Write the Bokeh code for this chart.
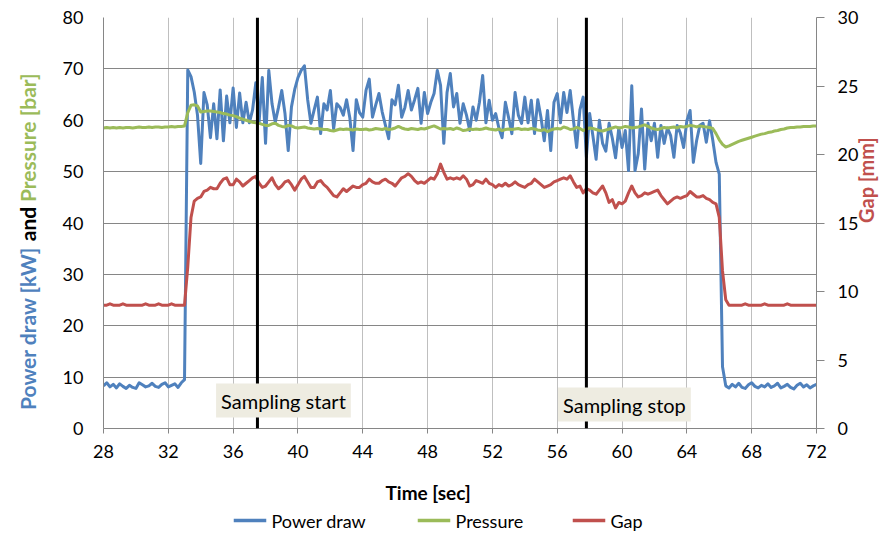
import math
from bokeh.plotting import figure
from bokeh.models import Range1d, LinearAxis, Label, FixedTicker, Span
from bokeh.embed import file_html
from bokeh.resources import INLINE

FONT = "Lato"

# ---------------- data (sampled every 0.2 s) ----------------
time_s = [round(28 + 0.2 * i, 1) for i in range(221)]

power_kw = [
    8.3, 8.9, 8.1, 8.6, 7.9,      # 28
    8.7, 8.2, 7.8, 8.4, 8.0,      # 29
    7.8, 8.9, 8.5, 8.1, 8.3,      # 30
    8.8, 8.2, 8.0, 8.6, 8.9,      # 31
    8.1, 8.4, 8.7, 8.0, 8.9,      # 32
    9.5, 69.8, 68.5, 65.5, 61.0,  # 33
    51.6, 65.4, 63.0, 56.6, 63.2,  # 34
    56.4, 65.9, 56.0, 64.7, 59.5,  # 35
    66.3, 58.6, 65.3, 59.5, 63.5,  # 36
    59.5, 62.0, 67.3, 59.6, 68.3,  # 37
    55.5, 69.7, 63.2, 59.6, 62.5,  # 38
    65.8, 61.3, 54.1, 62.6, 66.0,  # 39
    68.3, 69.7, 70.6, 64.0, 59.4,  # 40
    62.0, 64.5, 57.4, 63.2, 62.0,  # 41
    65.8, 58.3, 63.2, 62.5, 61.0,  # 42
    64.0, 60.5, 54.1, 64.0, 61.5,  # 43
    60.6, 65.8, 68.0, 60.6, 63.0,  # 44
    65.2, 61.6, 59.0, 56.4, 64.0,  # 45
    63.0, 66.8, 60.6, 62.5, 65.8,  # 46
    62.0, 64.0, 66.2, 59.4, 65.4,  # 47
    61.3, 63.5, 65.2, 69.7, 66.8,  # 48
    55.5, 65.4, 69.1, 62.6, 65.2,  # 49
    59.4, 63.2, 61.0, 58.0, 62.6,  # 50
    60.0, 63.5, 68.7, 59.5, 63.9,  # 51
    60.0, 61.3, 58.5, 56.6, 63.5,  # 52
    60.5, 57.4, 65.4, 61.0, 59.4,  # 53
    64.5, 59.5, 63.9, 57.4, 64.0,  # 54
    60.5, 56.0, 61.9, 54.1, 63.5,  # 55
    65.2, 59.5, 65.4, 61.5, 65.8,  # 56
    60.0, 54.7, 62.0, 64.5, 52.8,  # 57
    61.3, 57.0, 52.4, 60.0, 55.5,  # 58
    54.0, 59.4, 56.5, 52.7, 58.5,  # 59
    54.7, 58.0, 50.2, 66.7, 50.2,  # 60
    53.5, 62.2, 50.5, 59.4, 56.0,  # 61
    59.4, 52.8, 59.0, 55.5, 58.5,  # 62
    57.0, 52.8, 59.0, 57.5, 54.7,  # 63
    59.9, 61.9, 51.8, 56.0, 59.0,  # 64
    59.4, 55.7, 59.9, 56.1, 51.8,  # 65
    49.5, 12.0, 8.3, 7.9, 8.6,     # 66
    8.1, 8.8, 8.0, 7.8, 8.5,       # 67
    8.9, 8.2, 7.9, 8.4, 8.1,       # 68
    8.7, 8.0, 8.3, 8.8, 7.9,       # 69
    8.2, 8.6, 8.0, 7.7, 8.4,       # 70
    8.8, 8.1, 8.5, 7.9, 8.3,       # 71
    8.6,                           # 72
]

pressure_bar = [
    58.5, 58.6, 58.5, 58.6, 58.5,  # 28
    58.6, 58.5, 58.6, 58.6, 58.5,  # 29
    58.6, 58.7, 58.6, 58.6, 58.7,  # 30
    58.6, 58.7, 58.7, 58.6, 58.7,  # 31
    58.7, 58.8, 58.7, 58.8, 58.8,  # 32
    58.9, 61.5, 62.9, 63.0, 62.8,  # 33
    61.6, 61.7, 61.8, 61.8, 61.7,  # 34
    61.6, 61.5, 61.3, 61.2, 61.0,  # 35
    60.9, 60.7, 60.4, 60.2, 60.0,  # 36
    59.8, 59.6, 59.5, 59.4, 59.2,  # 37
    59.0, 59.0, 59.3, 59.4, 59.0,  # 38
    58.8, 58.7, 59.0, 58.9, 58.6,  # 39
    58.5, 58.6, 58.7, 58.5, 58.4,  # 40
    58.3, 58.4, 58.3, 58.2, 58.2,  # 41
    58.0, 57.9, 58.1, 58.3, 58.2,  # 42
    58.3, 58.2, 58.1, 58.3, 58.2,  # 43
    58.2, 58.3, 58.1, 58.2, 58.4,  # 44
    58.3, 58.2, 58.4, 58.2, 58.3,  # 45
    58.5, 58.8, 58.5, 58.3, 58.2,  # 46
    58.4, 58.3, 58.2, 58.4, 58.3,  # 47
    58.5, 58.7, 58.9, 58.6, 58.3,  # 48
    58.4, 58.3, 58.4, 58.2, 58.5,  # 49
    58.3, 58.0, 58.1, 58.3, 58.2,  # 50
    58.3, 58.2, 58.3, 58.5, 58.3,  # 51
    58.2, 58.1, 58.3, 58.0, 58.2,  # 52
    58.3, 58.2, 58.3, 58.4, 58.2,  # 53
    58.3, 58.2, 58.4, 58.3, 58.1,  # 54
    58.0, 58.2, 57.8, 58.1, 58.3,  # 55
    58.4, 58.3, 58.7, 58.5, 58.2,  # 56
    58.3, 58.6, 58.4, 58.0, 58.3,  # 57
    58.5, 58.4, 58.2, 58.0, 57.9,  # 58
    58.1, 58.3, 58.5, 58.7, 58.5,  # 59
    58.6, 58.8, 58.7, 58.5, 58.6,  # 60
    58.7, 58.9, 59.1, 58.8, 58.5,  # 61
    58.3, 58.2, 58.4, 58.6, 58.5,  # 62
    58.6, 58.7, 58.5, 58.8, 58.7,  # 63
    58.8, 59.0, 58.9, 58.7, 58.9,  # 64
    58.8, 58.7, 58.6, 58.4, 57.4,  # 65
    56.2, 55.3, 54.8, 55.0, 55.3,  # 66
    55.6, 55.9, 56.1, 56.3, 56.5,  # 67
    56.7, 56.9, 57.1, 57.3, 57.4,  # 68
    57.6, 57.7, 57.9, 58.0, 58.2,  # 69
    58.3, 58.5, 58.6, 58.6, 58.7,  # 70
    58.7, 58.8, 58.8, 58.8, 58.9,  # 71
    58.9,                          # 72
]

gap_mm = [
    9.0, 9.0, 9.1, 9.0, 9.0,       # 28
    9.0, 9.1, 9.0, 9.0, 9.0,       # 29
    9.0, 9.0, 9.0, 9.1, 9.0,       # 30
    9.0, 9.0, 9.1, 9.0, 9.0,       # 31
    9.0, 9.1, 9.0, 9.0, 9.0,       # 32
    9.0, 11.8, 15.4, 16.6, 16.8,   # 33
    16.9, 17.3, 17.4, 17.6, 17.5,  # 34
    17.5, 17.9, 18.2, 18.3, 17.8,  # 35
    17.8, 18.2, 18.0, 17.7, 17.9,  # 36
    18.1, 18.3, 18.4, 17.9, 17.6,  # 37
    17.7, 18.0, 18.3, 17.8, 17.5,  # 38
    17.7, 18.0, 18.1, 17.8, 17.4,  # 39
    17.8, 18.2, 18.4, 18.0, 17.6,  # 40
    17.6, 18.0, 18.1, 17.8, 17.6,  # 41
    17.3, 17.0, 16.9, 17.2, 17.5,  # 42
    17.3, 17.5, 17.7, 17.6, 17.6,  # 43
    17.8, 17.9, 18.2, 18.0, 17.9,  # 44
    17.9, 18.1, 18.2, 18.0, 17.9,  # 45
    17.7, 18.0, 18.3, 18.4, 18.6,  # 46
    18.4, 18.1, 17.9, 18.0, 17.9,  # 47
    18.1, 18.3, 18.2, 18.6, 19.3,  # 48
    18.7, 18.2, 18.3, 18.2, 18.3,  # 49
    18.2, 18.45, 18.2, 17.7, 17.8,  # 50
    18.1, 18.0, 17.9, 18.2, 17.9,  # 51
    17.8, 17.6, 17.8, 17.7, 17.9,  # 52
    17.7, 17.8, 18.0, 17.8, 17.7,  # 53
    17.6, 17.8, 17.9, 18.2, 18.0,  # 54
    17.8, 17.6, 17.7, 17.8, 18.0,  # 55
    18.1, 18.2, 18.3, 18.2, 18.45,  # 56
    18.0, 17.6, 17.7, 17.2, 17.5,  # 57
    17.4, 17.2, 17.1, 17.4, 17.7,  # 58
    17.2, 16.5, 16.7, 16.1, 16.5,  # 59
    16.4, 16.6, 17.2, 17.7, 17.2,  # 60
    16.9, 17.0, 17.2, 17.1, 17.2,  # 61
    17.3, 17.4, 17.0, 16.7, 16.4,  # 62
    16.6, 16.8, 16.9, 16.8, 16.9,  # 63
    17.0, 17.3, 17.1, 16.9, 16.9,  # 64
    17.0, 16.8, 16.7, 16.5, 16.4,  # 65
    15.4, 11.5, 9.4, 9.0, 9.0,     # 66
    9.0, 9.0, 9.0, 9.1, 9.0,       # 67
    9.0, 9.0, 9.0, 9.0, 9.1,       # 68
    9.0, 9.0, 9.0, 9.0, 9.0,       # 69
    9.0, 9.1, 9.0, 9.0, 9.0,       # 70
    9.0, 9.0, 9.0, 9.0, 9.0,       # 71
    9.0,                           # 72
]

x_ticks = [28, 32, 36, 40, 44, 48, 52, 56, 60, 64, 68, 72]
left_ticks = [0, 10, 20, 30, 40, 50, 60, 70, 80]
right_ticks = [0, 5, 10, 15, 20, 25, 30]
sampling_start = 37.5
sampling_stop = 57.8
series_names = ["Power draw", "Pressure", "Gap"]

C_POWER = "#4F81BD"
C_PRESS = "#9BBB59"
C_GAP = "#C0504D"
AXIS_GRAY = "#868686"

LEFT_BORDER = 130      # room for axis + three stacked title labels
SHIFT = 27             # canvas pulled left so that the frame starts at x=103

p = figure(frame_width=713, frame_height=411,
           x_range=Range1d(28, 72), y_range=Range1d(0, 80),
           output_backend="svg", toolbar_location=None,
           min_border_left=LEFT_BORDER, min_border_right=76,
           min_border_top=17, min_border_bottom=107,
           margin=(0, 0, 0, -SHIFT))
p.extra_y_ranges = {"gap": Range1d(0, 30)}
p.outline_line_color = None

p.xaxis.ticker = FixedTicker(ticks=x_ticks)
p.yaxis.ticker = FixedTicker(ticks=left_ticks)
for ax in (p.xaxis[0], p.yaxis[0]):
    ax.axis_line_color = AXIS_GRAY
    ax.major_tick_line_color = AXIS_GRAY
    ax.minor_tick_line_color = None
    ax.major_tick_in = 0
    ax.major_label_text_font = FONT
    ax.major_label_text_font_size = "18px"
    ax.major_label_text_color = "#000000"
p.yaxis.major_tick_out = 0
p.yaxis.major_label_standoff = 20
p.xaxis.major_tick_out = 5
p.xaxis.major_label_standoff = 11

rax = LinearAxis(y_range_name="gap", ticker=FixedTicker(ticks=right_ticks))
rax.axis_line_color = AXIS_GRAY
rax.major_tick_line_color = AXIS_GRAY
rax.minor_tick_line_color = None
rax.major_tick_in = 0
rax.major_tick_out = 8
rax.major_label_standoff = 13
rax.major_label_text_font = FONT
rax.major_label_text_font_size = "18px"
rax.major_label_text_color = "#000000"
rax.axis_label = "Gap [mm]"
rax.axis_label_text_font = FONT
rax.axis_label_text_font_size = "20px"
rax.axis_label_text_font_style = "bold"
rax.axis_label_text_color = C_GAP
rax.axis_label_standoff = 5
rax.axis_label_orientation = math.pi / 2
p.add_layout(rax, "right")

p.xgrid.ticker = FixedTicker(ticks=x_ticks)
p.xgrid.grid_line_color = "#BFBFBF"
p.ygrid.ticker = FixedTicker(ticks=left_ticks)
p.ygrid.grid_line_color = AXIS_GRAY

p.line(time_s, power_kw, line_color=C_POWER, line_width=3, line_join="round")
p.line(time_s, pressure_bar, line_color=C_PRESS, line_width=3, line_join="round")
p.line(time_s, gap_mm, line_color=C_GAP, line_width=3, line_join="round",
       y_range_name="gap")

for loc in (sampling_start, sampling_stop):
    p.add_layout(Span(location=loc, dimension="height", line_color="black", line_width=3))

box_kw = dict(text_font=FONT, text_font_size="20px", text_color="#000000",
              text_align="center", text_baseline="middle",
              background_fill_color="#EEECE1", padding=5)
p.add_layout(Label(x=sampling_start, y=0, x_offset=26, y_offset=28,
                   text="Sampling start", **box_kw))
p.add_layout(Label(x=sampling_stop, y=0, x_offset=38, y_offset=24,
                   text="Sampling stop", **box_kw))

# multi-coloured left title: labels in the left side panel (not clipped)
title_kw = dict(x=28, x_offset=-76, angle=math.pi / 2, text_font=FONT,
                text_font_size="21px", text_font_style="bold",
                text_baseline="middle", text_align="center")
p.add_layout(Label(y=19.5, text="Power draw [kW]", text_color=C_POWER, **title_kw), "left")
p.add_layout(Label(y=39.8, text="and", text_color="#000000", **title_kw), "left")
p.add_layout(Label(y=56.6, text="Pressure [bar]", text_color=C_PRESS, **title_kw), "left")

# x-axis title, in the bottom panel
p.add_layout(Label(x=28, y=0, x_offset=282, y_offset=-64, text="Time [sec]",
                   text_font=FONT, text_font_size="19px", text_font_style="bold",
                   text_color="#000000", text_align="left", text_baseline="middle"),
             "below")

# legend row below the axis title: coloured swatch + series name
legend_entries = [(series_names[0], C_POWER, 130), (series_names[1], C_PRESS, 314),
                  (series_names[2], C_GAP, 469)]
for name, colour, off in legend_entries:
    p.add_layout(Label(x=28, y=0, x_offset=off + 16.5, y_offset=-92, text=" " * 18,
                       text_font="DejaVu Sans Mono", text_font_size="3px",
                       text_align="center", text_baseline="middle",
                       background_fill_color=colour, padding=0), "below")
    p.add_layout(Label(x=28, y=0, x_offset=off + 38, y_offset=-92, text=name,
                       text_font=FONT, text_font_size="18px", text_color="#000000",
                       text_align="left", text_baseline="middle"), "below")

open("out.html", "w").write(file_html(p, INLINE))
